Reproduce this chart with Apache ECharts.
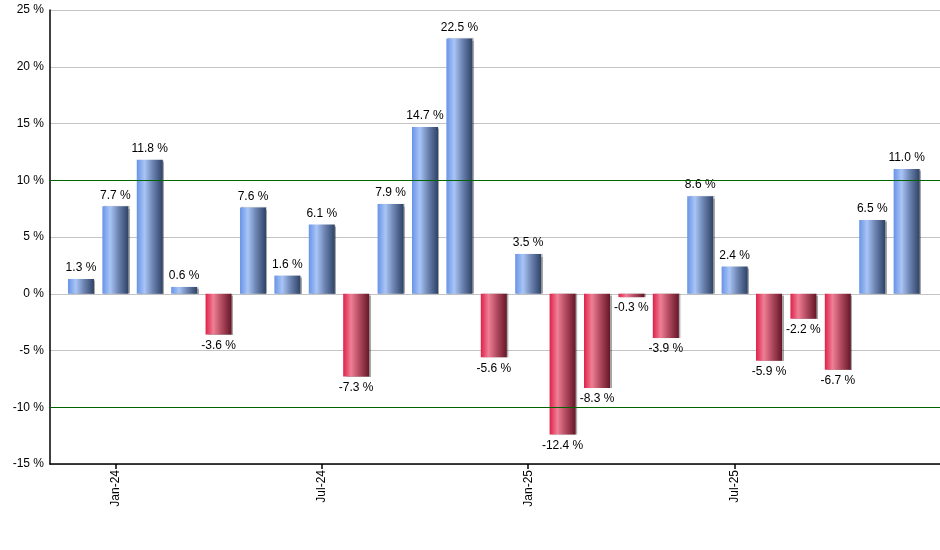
<!DOCTYPE html>
<html>
<head>
<meta charset="utf-8">
<script src="https://cdn.jsdelivr.net/npm/echarts@6/dist/echarts.min.js"></script>
<style>html,body{margin:0;padding:0;background:#fff}#c{width:940px;height:550px}</style>
</head>
<body>
<div id="c"></div>
<script>
const months = ['Dec-23','Jan-24','Feb-24','Mar-24','Apr-24','May-24','Jun-24','Jul-24','Aug-24','Sep-24','Oct-24','Nov-24','Dec-24','Jan-25','Feb-25','Mar-25','Apr-25','May-25','Jun-25','Jul-25','Aug-25','Sep-25','Oct-25','Nov-25','Dec-25'];
const returns = [1.3, 7.7, 11.8, 0.6, -3.6, 7.6, 1.6, 6.1, -7.3, 7.9, 14.7, 22.5, -5.6, 3.5, -12.4, -8.3, -0.3, -3.9, 8.6, 2.4, -5.9, -2.2, -6.7, 6.5, 11.0];
const shownMonths = ['Jan-24','Jul-24','Jan-25','Jul-25'];
const yTicks = [-15, -10, -5, 0, 5, 10, 15, 20, 25];
const refLines = [10, -10];

const blueGrad = new echarts.graphic.LinearGradient(0,0,1,0,[
  {offset:0,color:'#6893e6'},{offset:0.3,color:'#a9c5f6'},{offset:0.6,color:'#6f87b5'},{offset:1,color:'#2e4266'}]);
const redGrad = new echarts.graphic.LinearGradient(0,0,1,0,[
  {offset:0,color:'#de2149'},{offset:0.3,color:'#ef7f95'},{offset:0.6,color:'#b54d62'},{offset:1,color:'#651628'}]);

const tickIdx = shownMonths.map(m => months.indexOf(m));
const data = returns.map((v,i) => ({
  value:[i,v],
  itemStyle:{color: v>=0 ? blueGrad : redGrad},
  label:{position: v>=0 ? 'top' : 'bottom'}
}));

const chart = echarts.init(document.getElementById('c'));
chart.setOption({
  animation:false,
  grid:{left:50,right:0,top:10,bottom:86,containLabel:false},
  xAxis:{
    type:'value', min:-0.9, max:24.97,
    axisLine:{show:true,onZero:false,lineStyle:{color:'#000',width:1.5}},
    axisTick:{show:true,customValues:tickIdx,length:5,lineStyle:{color:'#000',width:1.5}},
    axisLabel:{customValues:tickIdx,rotate:90,formatter:v=>months[Math.round(v)],color:'#000',fontFamily:'Liberation Sans, Arial',fontSize:12,margin:6},
    splitLine:{show:false}
  },
  yAxis:{
    type:'value', min:yTicks[0], max:yTicks[yTicks.length-1], interval:5,
    axisLine:{show:true,onZero:false,lineStyle:{color:'#000',width:1.5}},
    axisTick:{show:false},
    axisLabel:{formatter:v=>v+' %',color:'#000',fontFamily:'Liberation Sans, Arial',fontSize:12,margin:6},
    splitLine:{show:true,lineStyle:{color:'#c4c4c4',width:1}}
  },
  series:[{
    type:'bar',
    barWidth:26,
    data:data,
    itemStyle:{shadowColor:'rgba(0,0,0,0.35)',shadowOffsetX:1.5,shadowOffsetY:0,shadowBlur:1},
    label:{show:true,formatter:p=>p.value[1].toFixed(1)+' %',color:'#000',fontFamily:'Liberation Sans, Arial',fontSize:12,distance:5},
    markLine:{
      silent:true,symbol:['none','none'],label:{show:false},
      lineStyle:{color:'#006400',type:'solid',width:1,opacity:1},
      data:refLines.map(y=>({yAxis:y,lineStyle:{color:'#006400',type:'solid',width:1}}))
    },
    z:3
  }]
});
</script>
</body>
</html>
